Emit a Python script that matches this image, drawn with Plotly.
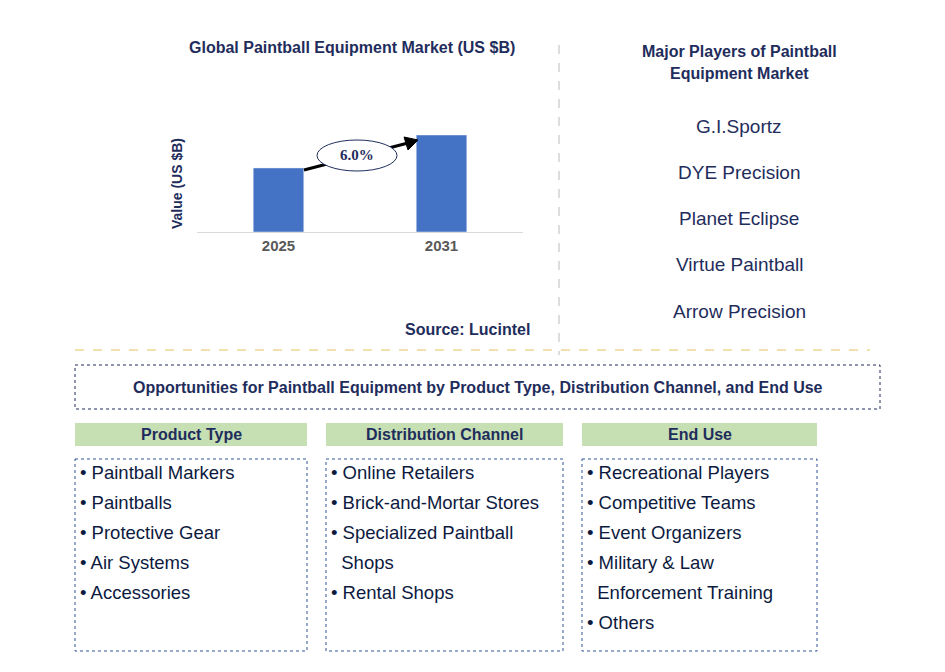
import plotly.graph_objects as go

W, H = 945, 672

years = ['2025', '2031']
values = [0.99, 1.5]
cagr_label = '6.0%'
players = ['G.I.Sportz', 'DYE Precision', 'Planet Eclipse', 'Virtue Paintball', 'Arrow Precision']
product_type = ['Paintball Markers', 'Paintballs', 'Protective Gear', 'Air Systems', 'Accessories']
distribution = ['Online Retailers', 'Brick-and-Mortar Stores', 'Specialized Paintball', ' Shops', 'Rental Shops']
end_use = ['Recreational Players', 'Competitive Teams', 'Event Organizers', 'Military & Law',
           ' Enforcement Training', 'Others']

NAVY = '#1f2d5c'
FONT = 'Liberation Sans'
OFF = 8  # page margin of the browser


def px(x):
    return (x - OFF) / W


def py(y):
    return 1 - (y - OFF) / H


fig = go.Figure()
fig.add_trace(go.Bar(x=years, y=values, marker_color='#4472c4', width=0.31))

shapes = []
ann = []


def text(x, y, s, size=13, color=NAVY, bold=False, xanchor='center', family=FONT):
    ann.append(dict(x=px(x), y=py(y), xref='paper', yref='paper', text=f'<b>{s}</b>' if bold else s,
                    showarrow=False, xanchor=xanchor, yanchor='middle',
                    font=dict(size=size, color=color, family=family)))


def rect(x0, y0, x1, y1, line=None, fill=None, dash='dot'):
    shapes.append(dict(type='rect', xref='paper', yref='paper', x0=px(x0), x1=px(x1), y0=py(y0), y1=py(y1),
                       line=dict(color=line or 'rgba(0,0,0,0)', width=1, dash=dash),
                       fillcolor=fill or 'rgba(0,0,0,0)'))


text(352, 47, 'Global Paintball Equipment Market (US $B)', 16, bold=True)
text(467, 329, 'Source: Lucintel', 16, bold=True)
text(739, 52, 'Major Players of Paintball', 16, bold=True)
text(739, 73, 'Equipment Market', 16, bold=True)
for i, p in enumerate(players):
    text(739, 126 + i * 46.3, p, 19)

# separators
shapes.append(dict(type='line', xref='paper', yref='paper', x0=px(559), x1=px(559), y0=py(45), y1=py(355),
                   line=dict(color='#bbbbbb', width=1, dash='dash')))
shapes.append(dict(type='line', xref='paper', yref='paper', x0=px(75), x1=px(870), y0=py(350), y1=py(350),
                   line=dict(color='#e6c35a', width=1, dash='dash')))

# CAGR arrow (line + head) under the ellipse
shapes.append(dict(type='line', xref='paper', yref='paper', x0=px(304), y0=py(170), x1=px(408), y1=py(143),
                   line=dict(color='black', width=3)))
shapes.append(dict(type='path', xref='paper', yref='paper',
                   path=f'M {px(418)} {py(140)} L {px(404)} {py(137)} L {px(408)} {py(150)} Z',
                   fillcolor='black', line=dict(color='black', width=1)))
shapes.append(dict(type='circle', xref='paper', yref='paper', x0=px(317), x1=px(397), y0=py(140), y1=py(171),
                   line=dict(color=NAVY, width=1), fillcolor='white'))
text(357, 155, cagr_label, 15, bold=True, family='Liberation Serif')

rect(75, 365, 880, 409, line=NAVY)
text(478, 387, 'Opportunities for Paintball Equipment by Product Type, Distribution Channel, and End Use', 16, bold=True)

cols = [(75, 307, 'Product Type', product_type), (326, 563, 'Distribution Channel', distribution),
        (582, 817, 'End Use', end_use)]
for x0, x1, title, items in cols:
    rect(x0, 423, x1, 446, fill='#c6e0b4')
    text((x0 + x1) / 2, 434.5, title, 16, bold=True)
    rect(x0, 459, x1, 651, line='#2e5597')
    for i, it in enumerate(items):
        s = '&nbsp;&nbsp;' + it.strip() if it.startswith(' ') else '• ' + it
        text(x0 + 3, 472 + i * 30, s, 18.5, color='#0d1a40', xanchor='left')

fig.update_layout(
    width=W, height=H, margin=dict(l=0, r=0, t=0, b=0), plot_bgcolor='white', paper_bgcolor='white',
    showlegend=False, shapes=shapes, annotations=ann, font=dict(family=FONT),
    xaxis=dict(domain=[px(197), px(523)], range=[-0.5, 1.5], showline=True, linecolor='#d9d9d9',
               tickvals=years, ticktext=[f'<b>{y}</b>' for y in years],
               tickfont=dict(size=15, color='#595959', family=FONT), ticks=''),
    yaxis=dict(domain=[py(232), py(135)], range=[0, 1.5], showticklabels=False, showgrid=False,
               zeroline=False, title=dict(text='<b>Value (US $B)</b>', font=dict(size=14, color=NAVY),
                                          standoff=10)),
)
fig.write_html('out.html')
